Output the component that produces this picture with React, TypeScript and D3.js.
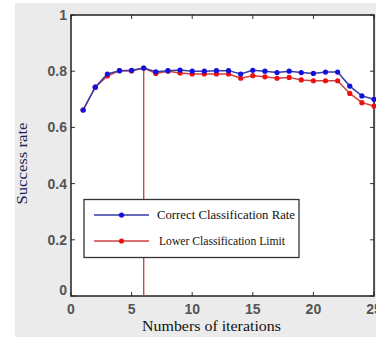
import React from 'react';
import * as d3 from 'd3';

const width = 376;
const height = 338;
const margin = { top: 15, right: 2, bottom: 42, left: 71 };

const iterations = d3.range(1, 26);
const correctRate = [0.662, 0.743, 0.790, 0.802, 0.803, 0.811, 0.798, 0.802, 0.804, 0.800,
  0.800, 0.802, 0.802, 0.790, 0.803, 0.800, 0.795, 0.800, 0.795, 0.792,
  0.797, 0.797, 0.747, 0.712, 0.700];
const lowerLimit = [0.662, 0.743, 0.783, 0.802, 0.801, 0.811, 0.792, 0.800, 0.794, 0.790,
  0.790, 0.790, 0.790, 0.775, 0.784, 0.780, 0.775, 0.778, 0.769, 0.766,
  0.766, 0.766, 0.721, 0.688, 0.676];
const xTicks = [0, 5, 10, 15, 20, 25];
const yTicks = [0, 0.2, 0.4, 0.6, 0.8, 1];
const markedIteration = 6;
const legendLabels = ['Correct Classification Rate', 'Lower Classification Limit'];

const App = () => {
  const x = d3.scaleLinear().domain([0, 25]).range([margin.left, width - margin.right]);
  const y = d3.scaleLinear().domain([0, 1]).range([height - margin.bottom, margin.top]);

  const line = d3.line<number>()
    .x((_, i) => x(iterations[i]))
    .y(d => y(d));

  const series = [
    { values: correctRate, stroke: '#3a3aa8', dot: '#1010e0' },
    { values: lowerLimit, stroke: '#d04040', dot: '#ee1010' },
  ];

  const x0 = x(0), x1 = x(25), y0 = y(0), y1 = y(1);
  const tickFont = 'Arial, "Liberation Sans", sans-serif';
  const serif = '"Times New Roman", "Liberation Serif", serif';

  return (
    <div style={{ position: 'fixed', left: 0, top: 0 }}>
      <svg width={width} height={height}>
        <rect x={0} y={0} width={width} height={height} fill="#ffffff" />
        <rect x={15} y={3} width={width - 15} height={334} fill="#ebebeb" />
        <rect x={x0} y={y1} width={x1 - x0} height={y0 - y1} fill="#ffffff" />

        {/* ticks inside the box */}
        {xTicks.map((t, i) => (
          <g key={i}>
            <line x1={x(t)} x2={x(t)} y1={y0} y2={y0 - 4} stroke="#333" />
            <line x1={x(t)} x2={x(t)} y1={y1} y2={y1 + 4} stroke="#333" />
            <text x={x(t)} y={y0 + 18} textAnchor="middle" fontFamily={tickFont}
              fontWeight="bold" fontSize={14} fill="#555">{t}</text>
          </g>
        ))}
        {yTicks.map((t, i) => (
          <g key={i}>
            <line x1={x0} x2={x0 + 4} y1={y(t)} y2={y(t)} stroke="#333" />
            <line x1={x1} x2={x1 - 4} y1={y(t)} y2={y(t)} stroke="#333" />
            <text x={x0 - 4} y={y(t) + (t === 0 ? -1 : 5)} textAnchor="end" fontFamily={tickFont}
              fontWeight="bold" fontSize={14} fill="#555">{t === 0 || t === 1 ? t : t.toFixed(1)}</text>
          </g>
        ))}

        <rect x={x0} y={y1} width={x1 - x0} height={y0 - y1} fill="none" stroke="#222" strokeWidth={1.5} />

        {/* marker line at iteration 6 */}
        <line x1={x(markedIteration)} x2={x(markedIteration)}
          y1={y(correctRate[markedIteration - 1])} y2={y0} stroke="#c04040" strokeWidth={1.3} />

        {series.slice().reverse().map((s, k) => (
          <g key={k}>
            <path d={line(s.values) || ''} fill="none" stroke={s.stroke} strokeWidth={1.5} />
            {s.values.map((v, i) => (
              <circle key={i} cx={x(iterations[i])} cy={y(v)} r={2.6} fill={s.dot} />
            ))}
          </g>
        ))}

        {/* legend */}
        <g>
          <rect x={84} y={199.5} width={215} height={58} fill="#ffffff" stroke="#333" strokeWidth={1.3} />
          {series.map((s, i) => (
            <g key={i}>
              <line x1={94} x2={149} y1={215 + i * 26} y2={215 + i * 26} stroke={s.stroke} strokeWidth={1.5} />
              <circle cx={121.5} cy={215 + i * 26} r={2.6} fill={s.dot} />
              <text x={157 + i * 2} y={219 + i * 26} fontFamily={serif} fontSize={13} fill="#111"
                textLength={i === 0 ? 138 : 126} lengthAdjust="spacingAndGlyphs">
                {legendLabels[i]}
              </text>
            </g>
          ))}
        </g>

        <text x={142} y={331} fontFamily={serif} fontSize={15} fill="#111"
          textLength={139} lengthAdjust="spacingAndGlyphs">
          Numbers of iterations
        </text>
        <text transform={`translate(27, ${(y0 + y1) / 2 + 8}) rotate(-90)`} textAnchor="middle"
          fontFamily={serif} fontSize={14} fill="#1a2050"
          textLength={82} lengthAdjust="spacingAndGlyphs">Success rate</text>
      </svg>
    </div>
  );
};

export default App;
